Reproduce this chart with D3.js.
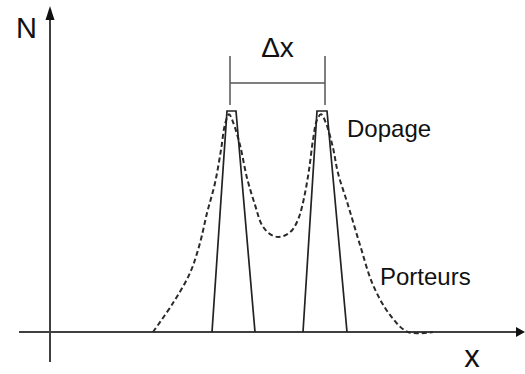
<!DOCTYPE html>
<html>
<head>
<meta charset="utf-8">
<script src="https://cdn.jsdelivr.net/npm/d3@7"></script>
<style>
  html, body { margin: 0; padding: 0; background: #fff; }
  svg { display: block; font-family: "Liberation Sans", Arial, sans-serif; }
</style>
</head>
<body>
<svg id="chart" width="525" height="374"></svg>
<script>
// Doping profile: two trapezoidal implants (position, concentration)
const dopageX = [[162, 177, 186, 205], [253, 267, 277, 297]];
const dopageN = [[0, 100, 100, 0], [0, 100, 100, 0]];

// Free carrier distribution (dashed), spread around the doping peaks
const porteursX = [103, 123, 140, 150, 157, 165, 171, 175, 179, 183, 190, 197, 205, 212, 220, 228, 236, 243, 249, 254, 259, 263, 267, 271, 276, 283, 288, 298, 310, 323, 340, 358, 383];
const porteursN = [0, 13.1, 26.7, 40.3, 53.8, 67.4, 82.4, 94.0, 98.5, 95.0, 84.6, 69.7, 57.5, 48.4, 44.3, 43.0, 43.9, 46.6, 52.0, 60.6, 73.3, 86.9, 96.0, 98.5, 94.5, 83.3, 71.9, 57.5, 39.4, 21.3, 7.7, 0, 0];

// Spacing marker between the two peaks
const deltaX = [180, 275];
const deltaN = { low: 102.7, mid: 112.7, high: 124.9 };

// Axis extents
const xDomain = [-31, 475];
const nDomain = [-13.6, 147.5];

const labels = { yAxis: "N", xAxis: "x", delta: "Δx", dopage: "Dopage", porteurs: "Porteurs" };

const svg = d3.select("#chart");
const x = d3.scaleLinear().domain([0, 475]).range([50, 525]);
const y = d3.scaleLinear().domain([0, 100]).range([332, 111]);

const ink = "#222";
const axisInk = "#404040";

// Axes
svg.append("line")
  .attr("x1", x(xDomain[0])).attr("x2", x(xDomain[1]) - 6)
  .attr("y1", y(0)).attr("y2", y(0))
  .attr("stroke", axisInk).attr("stroke-width", 2);
svg.append("line")
  .attr("x1", x(0)).attr("x2", x(0))
  .attr("y1", y(nDomain[0])).attr("y2", y(nDomain[1]) + 8)
  .attr("stroke", axisInk).attr("stroke-width", 2);

// Arrow heads
const xt = x(xDomain[1]), yt = y(nDomain[1]);
svg.append("path")
  .attr("d", `M${xt},${y(0)} L${xt - 9},${y(0) - 5} L${xt - 9},${y(0) + 5} Z`)
  .attr("fill", "#111");
svg.append("path")
  .attr("d", `M${x(0)},${yt} L${x(0) - 4.5},${yt + 14} L${x(0) + 4.5},${yt + 14} Z`)
  .attr("fill", "#111");

// Carrier curve (dashed)
const line = d3.line().x(d => x(d[0])).y(d => y(d[1]));
svg.append("path")
  .datum(porteursX.map((v, i) => [v, porteursN[i]]))
  .attr("d", line.curve(d3.curveCatmullRom.alpha(0.5)))
  .attr("fill", "none")
  .attr("stroke", "#2a2a2a")
  .attr("stroke-width", 2)
  .attr("stroke-dasharray", "5,3");

// Doping peaks (solid)
const solid = d3.line().x(d => x(d[0])).y(d => y(d[1]));
dopageX.forEach((xs, k) => {
  svg.append("path")
    .datum(xs.map((v, i) => [v, dopageN[k][i]]))
    .attr("d", solid)
    .attr("fill", "none")
    .attr("stroke", ink)
    .attr("stroke-width", 1.7)
    .attr("stroke-linejoin", "miter");
});

// Δx marker
deltaX.forEach(v => {
  svg.append("line")
    .attr("x1", x(v)).attr("x2", x(v))
    .attr("y1", y(deltaN.low)).attr("y2", y(deltaN.high))
    .attr("stroke", "#555").attr("stroke-width", 1.5);
});
svg.append("line")
  .attr("x1", x(deltaX[0])).attr("x2", x(deltaX[1]))
  .attr("y1", y(deltaN.mid)).attr("y2", y(deltaN.mid))
  .attr("stroke", "#555").attr("stroke-width", 1.5);

// Labels
svg.append("text").attr("x", 16).attr("y", 38)
  .attr("font-size", 29).attr("fill", "#111").text(labels.yAxis);
svg.append("text").attr("x", 472).attr("y", 367).attr("text-anchor", "middle")
  .attr("font-size", 31).attr("fill", "#111").text(labels.xAxis);
svg.append("text").attr("x", (x(deltaX[0]) + x(deltaX[1])) / 2).attr("y", 57)
  .attr("text-anchor", "middle")
  .attr("font-size", 28).attr("fill", "#111").text(labels.delta);
svg.append("text").attr("x", 347).attr("y", 137)
  .attr("font-size", 24).attr("fill", "#111").text(labels.dopage);
svg.append("text").attr("x", 380).attr("y", 285)
  .attr("font-size", 24).attr("fill", "#111").text(labels.porteurs);
</script>
</body>
</html>
